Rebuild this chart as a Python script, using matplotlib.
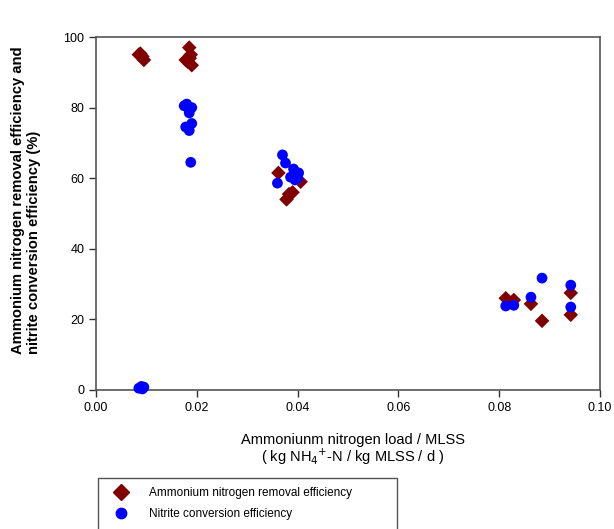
import matplotlib
matplotlib.use("Agg")
import matplotlib.pyplot as plt
from matplotlib.lines import Line2D
from matplotlib.patches import Rectangle

plt.rcParams['font.family'] = ['Liberation Sans', 'DejaVu Sans']

# Ammonium nitrogen removal efficiency
removal_x = [0.0085, 0.0088, 0.0092, 0.0095,
             0.0185, 0.0188, 0.0178, 0.0182, 0.0190, 0.0186,
             0.0362, 0.0406, 0.0390, 0.0378, 0.0383,
             0.0813, 0.0829, 0.0863, 0.0885, 0.0942, 0.0942]
removal_y = [95.0, 95.3, 94.5, 93.5,
             97.0, 95.0, 93.5, 93.0, 92.0, 94.0,
             61.5, 59.0, 56.0, 54.0, 55.5,
             26.0, 25.5, 24.4, 19.6, 27.5, 21.3]

# Nitrite conversion efficiency
nitrite_x = [0.0085, 0.0090, 0.0095, 0.0092,
             0.0175, 0.0180, 0.0185, 0.0190, 0.0185, 0.0190, 0.0178, 0.0185, 0.0188,
             0.0370, 0.0376, 0.0392, 0.0402, 0.0386, 0.0400, 0.0360, 0.0395,
             0.0813, 0.0829, 0.0863, 0.0885, 0.0942, 0.0942]
nitrite_y = [0.5, 1.0, 0.8, 0.3,
             80.5, 81.0, 79.5, 80.0, 78.5, 75.5, 74.5, 73.5, 64.5,
             66.6, 64.3, 62.6, 61.5, 60.3, 60.0, 58.6, 59.5,
             23.8, 24.0, 26.3, 31.7, 29.7, 23.5]

x_ticks = [0.00, 0.02, 0.04, 0.06, 0.08, 0.10]
x_ticklabels = ['0.00', '0.02', '0.04', '0.06', '0.08', '0.10']
y_ticks = [0, 20, 40, 60, 80, 100]

removal_color = '#800000'
nitrite_color = '#0000ff'

W, H = 614, 529
fig = plt.figure(figsize=(W/100, H/100), dpi=100)
ax = fig.add_axes([96/W, 1-390/H, (600-96)/W, (390-37)/H])

ax.scatter(removal_x, removal_y, marker='D', s=55, color=removal_color,
           edgecolors='none', zorder=3, clip_on=False)
ax.scatter(nitrite_x, nitrite_y, marker='o', s=60, color=nitrite_color,
           edgecolors='none', zorder=4, clip_on=False)

ax.set_xlim(0, 0.10)
ax.set_ylim(0, 100)
ax.set_xticks(x_ticks)
ax.set_xticklabels(x_ticklabels)
ax.set_yticks(y_ticks)
ax.tick_params(axis='both', direction='out', length=5, width=1, labelsize=9,
               colors='#333333', labelcolor='black', top=False, right=False)
for sp in ax.spines.values():
    sp.set_color('#555555')
    sp.set_linewidth(1.2)

fig.text(353/W, 1-440/H, 'Ammoniunm nitrogen load / MLSS',
         ha='center', va='center', fontsize=10.5)
fig.text(353/W, 1-457/H, r'( kg NH$_4$$^{+}$-N / kg MLSS / d )',
         ha='center', va='center', fontsize=10.5)

fig.text(26/W, 1-200/H,
         'Ammonium nitrogen removal efficiency and\nnitrite conversion efficiency (%)',
         rotation=90, ha='center', va='center', fontsize=10.6,
         fontweight='bold', linespacing=1.15, multialignment='left')

# legend box (extends past the bottom edge as in the reference)
fig.patches.append(Rectangle((98/W, 1-535/H), (397-98)/W, (535-478)/H,
                             transform=fig.transFigure, fill=False,
                             edgecolor='#555555', linewidth=1.0))
handles = [Line2D([], [], marker='D', color=removal_color, linestyle='none', markersize=8),
           Line2D([], [], marker='o', color=nitrite_color, linestyle='none', markersize=7.5)]
fig.legend(handles, ['Ammonium nitrogen removal efficiency', 'Nitrite conversion efficiency'],
           loc='upper left', bbox_to_anchor=(112/W, 1-487/H),
           frameon=False, fontsize=8.5, handletextpad=1.6,
           borderpad=0.0, labelspacing=0.75, borderaxespad=0,
           handlelength=1.5)

fig.savefig('out.png', dpi=100)
